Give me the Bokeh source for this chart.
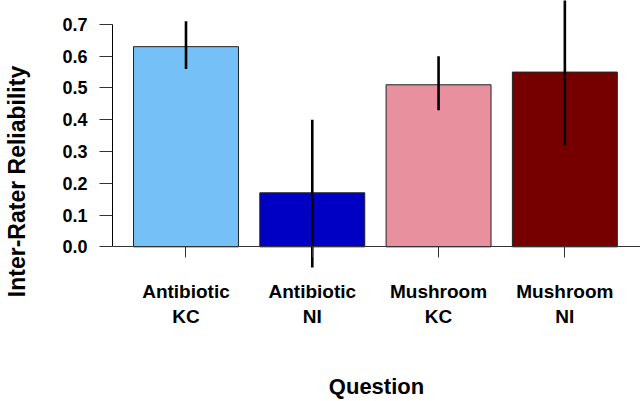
from bokeh.plotting import figure
from bokeh.models import Range1d, LinearAxis, FixedTicker, ColumnDataSource, PrintfTickFormatter
from bokeh.embed import file_html
from bokeh.resources import INLINE

# ---- data ----
categories = ["Antibiotic\nKC", "Antibiotic\nNI", "Mushroom\nKC", "Mushroom\nNI"]
reliability = [0.63, 0.17, 0.51, 0.55]
ci_low = [0.56, -0.065, 0.43, 0.32]
ci_high = [0.71, 0.40, 0.60, 0.78]
bar_colors = ["#75C0F7", "#0000C4", "#E8909D", "#760000"]
y_ticks = [0.0, 0.1, 0.2, 0.3, 0.4, 0.5, 0.6, 0.7]

xs = list(range(1, len(categories) + 1))
src = ColumnDataSource(dict(x=xs, top=reliability, lo=ci_low, hi=ci_high, color=bar_colors))

FONT = "Liberation Sans"

p = figure(width=640, height=401, output_backend="svg", toolbar_location=None,
           x_range=Range1d(0.418, 4.599), y_range=Range1d(-0.3641, 0.7753),
           x_axis_location=None,
           min_border_left=112, min_border_right=0, min_border_top=0, min_border_bottom=38)
p.outline_line_color = None
p.grid.visible = False
p.background_fill_color = "white"
p.border_fill_color = "white"

p.vbar(x="x", top="top", bottom=0, width=0.831, fill_color="color",
       line_color="#222222", line_width=1, source=src)
p.segment(x0="x", y0="lo", x1="x", y1="hi", line_color="black", line_width=2.6, source=src)

# y axis
ya = p.yaxis[0]
ya.bounds = (0, 0.7)
ya.ticker = FixedTicker(ticks=y_ticks)
ya.formatter = PrintfTickFormatter(format="%.1f")
ya.major_tick_out = 13
ya.major_tick_in = 0
ya.minor_tick_line_color = None
ya.axis_line_color = "black"
ya.major_tick_line_color = "#333333"
ya.major_label_standoff = 12
ya.major_label_text_font = FONT
ya.major_label_text_font_style = "bold"
ya.major_label_text_font_size = "18px"
ya.major_label_text_color = "black"
ya.axis_label = "Inter-Rater Reliability"
ya.axis_label_text_font = FONT
ya.axis_label_text_font_style = "bold"
ya.axis_label_text_font_size = "23px"
ya.axis_label_text_color = "black"
ya.axis_label_standoff = 29

# x axis with ticks fixed at y = 0
xa = LinearAxis(fixed_location=0, ticker=FixedTicker(ticks=xs),
                major_label_overrides={x: c for x, c in zip(xs, categories)})
xa.major_tick_out = 11
xa.major_tick_in = 0
xa.minor_tick_line_color = None
xa.axis_line_color = "#333333"
xa.major_tick_line_color = "#333333"
xa.major_label_standoff = 23
xa.major_label_text_font = FONT
xa.major_label_text_font_style = "bold"
xa.major_label_text_font_size = "19px"
xa.major_label_text_color = "black"
p.add_layout(xa, "below")

# x axis title in the panel below the frame
xt = LinearAxis(ticker=FixedTicker(ticks=[]), axis_label="Question")
xt.axis_line_color = None
xt.major_tick_line_color = None
xt.minor_tick_line_color = None
xt.major_tick_out = 0
xt.major_label_standoff = 0
xt.axis_label_standoff = 11
xt.axis_label_text_font = FONT
xt.axis_label_text_font_style = "bold"
xt.axis_label_text_font_size = "22px"
xt.axis_label_text_color = "black"
p.add_layout(xt, "below")

open("out.html", "w").write(file_html(p, INLINE))
